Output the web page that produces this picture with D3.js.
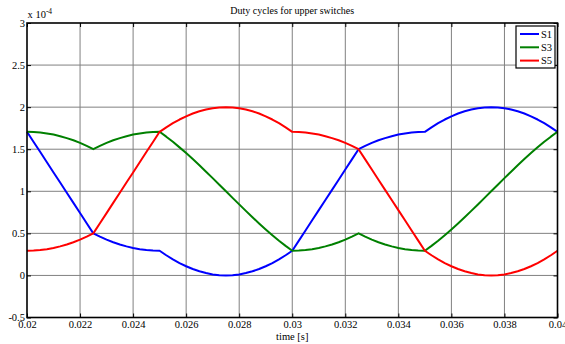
<!DOCTYPE html>
<html>
<head>
<meta charset="utf-8">
<script src="https://cdn.jsdelivr.net/npm/d3@7"></script>
<style>
  body { margin: 0; background: #fff; }
  svg { display: block; font-family: "Liberation Serif", "DejaVu Serif", serif; }
</style>
</head>
<body>
<svg id="chart" width="565" height="344"></svg>
<script>
// sample grid: one value every 0.25 ms from 0.02 s to 0.04 s
var tStart = 0.02, tStep = 0.00025;

// duty cycles (x 1e-4)
var s1 = [1.707, 1.586, 1.466, 1.345, 1.224, 1.104, 0.983, 0.862, 0.741, 0.621, 0.5,
  0.461, 0.425, 0.394, 0.368, 0.345, 0.326, 0.312, 0.301, 0.295, 0.293,
  0.240, 0.191, 0.147, 0.109, 0.076, 0.049, 0.028, 0.012, 0.003, 0, 0.003, 0.012, 0.028, 0.049, 0.076, 0.109, 0.147, 0.191, 0.240, 0.293,
  0.414, 0.534, 0.655, 0.776, 0.897, 1.017, 1.138, 1.259, 1.379, 1.5,
  1.539, 1.575, 1.606, 1.632, 1.655, 1.674, 1.688, 1.699, 1.705, 1.707,
  1.760, 1.809, 1.853, 1.891, 1.924, 1.951, 1.972, 1.988, 1.997, 2.0, 1.997, 1.988, 1.972, 1.951, 1.924, 1.891, 1.853, 1.809, 1.760, 1.707];

var s3 = [1.707, 1.705, 1.699, 1.688, 1.674, 1.655, 1.632, 1.606, 1.575, 1.539, 1.5,
  1.539, 1.575, 1.606, 1.632, 1.655, 1.674, 1.688, 1.699, 1.705, 1.707,
  1.649, 1.588, 1.522, 1.454, 1.383, 1.309, 1.233, 1.156, 1.078, 1.0, 0.922, 0.844, 0.767, 0.691, 0.617, 0.546, 0.478, 0.412, 0.351, 0.293,
  0.295, 0.301, 0.312, 0.326, 0.345, 0.368, 0.394, 0.425, 0.461, 0.5,
  0.461, 0.425, 0.394, 0.368, 0.345, 0.326, 0.312, 0.301, 0.295, 0.293,
  0.351, 0.412, 0.478, 0.546, 0.617, 0.691, 0.767, 0.844, 0.922, 1.0, 1.078, 1.156, 1.233, 1.309, 1.383, 1.454, 1.522, 1.588, 1.649, 1.707];

var s5 = [0.293, 0.295, 0.301, 0.312, 0.326, 0.345, 0.368, 0.394, 0.425, 0.461, 0.5,
  0.621, 0.741, 0.862, 0.983, 1.104, 1.224, 1.345, 1.466, 1.586, 1.707,
  1.760, 1.809, 1.853, 1.891, 1.924, 1.951, 1.972, 1.988, 1.997, 2.0, 1.997, 1.988, 1.972, 1.951, 1.924, 1.891, 1.853, 1.809, 1.760, 1.707,
  1.705, 1.699, 1.688, 1.674, 1.655, 1.632, 1.606, 1.575, 1.539, 1.5,
  1.379, 1.259, 1.138, 1.017, 0.897, 0.776, 0.655, 0.534, 0.414, 0.293,
  0.240, 0.191, 0.147, 0.109, 0.076, 0.049, 0.028, 0.012, 0.003, 0, 0.003, 0.012, 0.028, 0.049, 0.076, 0.109, 0.147, 0.191, 0.240, 0.293];

var xTicks = [0.02, 0.022, 0.024, 0.026, 0.028, 0.03, 0.032, 0.034, 0.036, 0.038, 0.04];
var xTickLabels = ["0.02", "0.022", "0.024", "0.026", "0.028", "0.03", "0.032", "0.034", "0.036", "0.038", "0.04"];
var yTicks = [-0.5, 0, 0.5, 1, 1.5, 2, 2.5, 3];
var yTickLabels = ["-0.5", "0", "0.5", "1", "1.5", "2", "2.5", "3"];

var series = [
  {name: "S1", values: s1, color: "#0000ff"},
  {name: "S3", values: s3, color: "#008000"},
  {name: "S5", values: s5, color: "#ff0000"}
];

var margin = {left: 27, right: 7.5, top: 23, bottom: 26.5};
var W = 565, H = 344;
var svg = d3.select("#chart");

var x = d3.scaleLinear().domain([0.02, 0.04]).range([margin.left, W - margin.right]);
var y = d3.scaleLinear().domain([-0.5, 3]).range([H - margin.bottom, margin.top]);

// grid
var grid = svg.append("g").attr("stroke", "#808080").attr("stroke-width", 1);
grid.selectAll("line.gx").data(xTicks.slice(1, -1)).enter().append("line")
  .attr("x1", function(d) { return x(d); }).attr("x2", function(d) { return x(d); })
  .attr("y1", y(3)).attr("y2", y(-0.5));
grid.selectAll("line.gy").data(yTicks.slice(1, -1)).enter().append("line")
  .attr("x1", x(0.02)).attr("x2", x(0.04))
  .attr("y1", function(d) { return y(d); }).attr("y2", function(d) { return y(d); });

// curves
var line = d3.line()
  .x(function(d, i) { return x(tStart + i * tStep); })
  .y(function(d) { return y(d); });

series.forEach(function(s) {
  svg.append("path")
    .datum(s.values)
    .attr("fill", "none")
    .attr("stroke", s.color)
    .attr("stroke-width", 2)
    .attr("stroke-linejoin", "round")
    .attr("d", line);
});

// axes (ticks point inward)
function styleAxis(g) {
  g.select(".domain").remove();
  g.selectAll(".tick line").attr("stroke", "#000").attr("stroke-width", 1);
  g.selectAll(".tick text").attr("fill", "#000").attr("font-size", "10.5px")
    .attr("font-family", "Liberation Serif, serif");
}

svg.append("g")
  .attr("transform", "translate(0," + y(-0.5) + ")")
  .call(d3.axisBottom(x).tickValues(xTicks).tickSizeInner(-4).tickSizeOuter(0).tickPadding(3)
    .tickFormat(function(d, i) { return xTickLabels[i]; }))
  .call(styleAxis);

svg.append("g")
  .attr("transform", "translate(0," + y(3) + ")")
  .call(d3.axisTop(x).tickValues(xTicks).tickSizeInner(-4).tickSizeOuter(0).tickFormat(""))
  .call(styleAxis);

svg.append("g")
  .attr("transform", "translate(" + x(0.02) + ",0)")
  .call(d3.axisLeft(y).tickValues(yTicks).tickSizeInner(-4).tickSizeOuter(0).tickPadding(2)
    .tickFormat(function(d, i) { return yTickLabels[i]; }))
  .call(styleAxis);

svg.append("g")
  .attr("transform", "translate(" + x(0.04) + ",0)")
  .call(d3.axisRight(y).tickValues(yTicks).tickSizeInner(-4).tickSizeOuter(0).tickFormat(""))
  .call(styleAxis);

// frame
svg.append("rect")
  .attr("x", x(0.02)).attr("y", y(3))
  .attr("width", x(0.04) - x(0.02)).attr("height", y(-0.5) - y(3))
  .attr("fill", "none").attr("stroke", "#000").attr("stroke-width", 1.6);

// exponent label
var expo = svg.append("text").attr("x", x(0.02) + 0.5).attr("y", y(3) - 5)
  .attr("font-size", "10.5px").attr("fill", "#000");
expo.append("tspan").text("x 10");
expo.append("tspan").attr("dy", -4).attr("font-size", "7.5px").text("-4");

// title and x label
svg.append("text").attr("x", (x(0.02) + x(0.04)) / 2).attr("y", 14)
  .attr("text-anchor", "middle").attr("font-size", "10px").attr("fill", "#000")
  .text("Duty cycles for upper switches");

svg.append("text").attr("x", (x(0.02) + x(0.04)) / 2).attr("y", 340)
  .attr("text-anchor", "middle").attr("font-size", "10.5px").attr("fill", "#000")
  .text("time [s]");

// legend
var lg = svg.append("g").attr("transform", "translate(516,26)");
lg.append("rect").attr("width", 39).attr("height", 42)
  .attr("fill", "#fff").attr("stroke", "#000").attr("stroke-width", 1.2);
series.forEach(function(s, i) {
  var ly = 8 + i * 13.3;
  lg.append("line").attr("x1", 4).attr("x2", 23).attr("y1", ly).attr("y2", ly)
    .attr("stroke", s.color).attr("stroke-width", 2);
  lg.append("text").attr("x", 25).attr("y", ly + 3.8)
    .attr("font-size", "10.5px").attr("fill", "#000").text(s.name);
});
</script>
</body>
</html>
